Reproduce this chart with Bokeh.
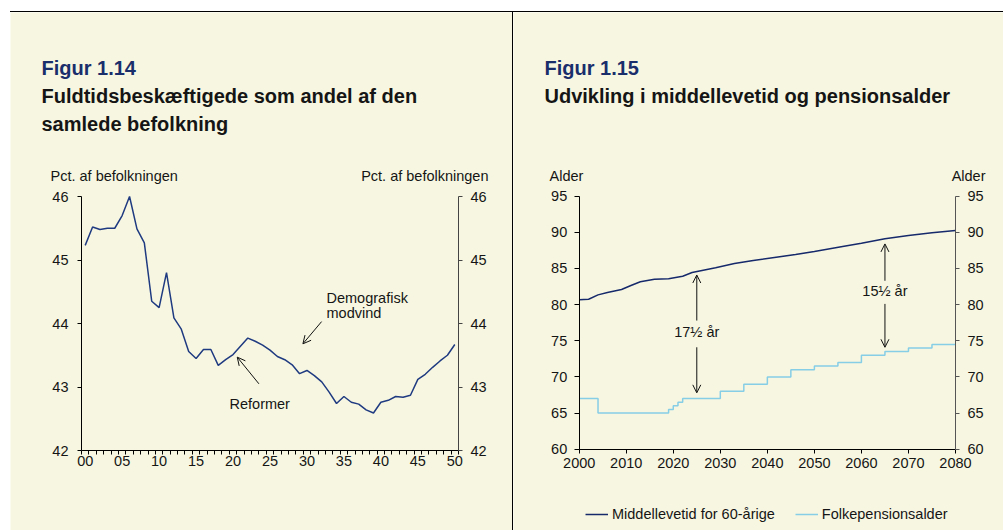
from bokeh.plotting import figure
from bokeh.models import (Range1d, LinearAxis, FixedTicker, Label, Arrow, OpenHead,
                          Legend, LegendItem, Spacer)
from bokeh.layouts import row, column
from bokeh.embed import file_html
from bokeh.resources import INLINE

FONT = "Liberation Sans"
BG = "#F7F7E1"
NAVY = "#1F3A80"
DARKNAVY = "#16296B"
LIGHTBLUE = "#86CDE6"
TITLEBLUE = "#1A2E6C"
TXT = "#151515"

# ---------------- Figur 1.14 data ----------------
years_114 = list(range(2000, 2051))
share_114 = [45.23, 45.52, 45.48, 45.50, 45.50, 45.70, 46.00, 45.49, 45.27, 44.35,
             44.25, 44.80, 44.09, 43.91, 43.56, 43.45, 43.59, 43.59, 43.34, 43.43,
             43.51, 43.64, 43.77, 43.72, 43.66, 43.58, 43.48, 43.43, 43.35, 43.21,
             43.26, 43.18, 43.08, 42.92, 42.74, 42.85, 42.76, 42.73, 42.64, 42.59,
             42.76, 42.79, 42.85, 42.84, 42.87, 43.12, 43.20, 43.31, 43.41, 43.50,
             43.67]
xticks_114 = [2000, 2005, 2010, 2015, 2020, 2025, 2030, 2035, 2040, 2045, 2050]
xlabels_114 = ["00", "05", "10", "15", "20", "25", "30", "35", "40", "45", "50"]
yticks_114 = [42, 43, 44, 45, 46]

# ---------------- Figur 1.15 data ----------------
le_years = [2000, 2002, 2004, 2006, 2009, 2011, 2013, 2016, 2019, 2022, 2024, 2029,
            2033, 2037, 2043, 2046, 2050, 2056, 2060, 2065, 2070, 2075, 2080]
le_values = [80.67, 80.75, 81.35, 81.68, 82.10, 82.65, 83.16, 83.52, 83.57, 83.93, 84.44,
             85.09, 85.69, 86.10, 86.66, 86.94, 87.35, 88.04, 88.50, 89.10, 89.56, 89.93, 90.25]
pens_years = [2000, 2004, 2019, 2020, 2021, 2022, 2030, 2035, 2040, 2045, 2050, 2055,
              2060, 2065, 2070, 2075, 2080]
pens_values = [67, 65, 65.5, 66, 66.5, 67, 68, 69, 70, 71, 71.5, 72, 73, 73.5, 74, 74.5, 74.5]
xticks_115 = [2000, 2010, 2020, 2030, 2040, 2050, 2060, 2070, 2080]
yticks_115 = [60, 65, 70, 75, 80, 85, 90, 95]

# ---------------- layout geometry (page pixels) ----------------
TOP = 12
H = 518
C1_X, C1_W = 10, 502
C2_X, C2_W = 513, 490


def x_range_for(d_lo, d_hi, px_lo, px_hi, c_x, c_w):
    s = (px_hi - px_lo) / (d_hi - d_lo)
    return Range1d(d_lo - (px_lo - c_x) / s, d_hi + (c_x + c_w - px_hi) / s)


def y_range_for(d_lo, d_hi, px_bottom, px_top):
    s = (px_bottom - px_top) / (d_hi - d_lo)
    return Range1d(d_lo - (TOP + H - px_bottom) / s, d_hi + (px_top - TOP) / s)


def style_axis(ax, color="#000000", size="14.5px"):
    ax.axis_line_color = color
    ax.axis_line_width = 1
    ax.major_tick_line_color = color
    ax.minor_tick_line_color = color
    ax.major_label_text_font = FONT
    ax.major_label_text_font_size = size
    ax.major_label_text_color = TXT
    ax.major_tick_in = 0
    ax.minor_tick_in = 0


def add_label(p, x, y, text, size="14.5px", bold=False, color=TXT, align="left",
              baseline="alphabetic", units="screen"):
    p.add_layout(Label(x=x, y=y, x_units=units, y_units=units, text=text,
                       text_font=FONT, text_font_size=size,
                       text_font_style="bold" if bold else "normal",
                       text_color=color, text_align=align, text_baseline=baseline))


def add_arrow(p, x0, y0, x1, y1):
    p.add_layout(Arrow(x_start=x0, y_start=y0, x_end=x1, y_end=y1,
                       line_color="#111111", line_width=1,
                       end=OpenHead(size=8, line_width=1, line_color="#111111")))


def base_fig(w, xr, yr):
    p = figure(width=w, height=H, x_range=xr, y_range=yr, title=None,
               x_axis_location=None, y_axis_location=None,
               output_backend="svg", toolbar_location=None,
               min_border=0, min_border_left=0, min_border_right=0,
               min_border_top=0, min_border_bottom=0,
               background_fill_color=BG, border_fill_color=BG, outline_line_color=None)
    p.grid.visible = False
    return p


# ---------------- Figure 1 ----------------
x1lo, x1hi = years_114[0] - 0.5, years_114[-1] + 0.5
p1 = base_fig(C1_W, x_range_for(x1lo, x1hi, 81, 458, C1_X, C1_W),
              y_range_for(yticks_114[0], yticks_114[-1], 450, 196))

xa = LinearAxis(fixed_location=yticks_114[0], bounds=(x1lo, x1hi))
xa.ticker = FixedTicker(ticks=xticks_114, minor_ticks=[y - 0.5 for y in years_114] + [x1hi])
xa.major_label_overrides = {t: l for t, l in zip(xticks_114, xlabels_114)}
style_axis(xa)
xa.major_tick_out = 0
xa.minor_tick_out = 4
xa.major_label_standoff = 1
p1.add_layout(xa, "below")

ya = LinearAxis(fixed_location=x1lo, bounds=(yticks_114[0], yticks_114[-1]),
                ticker=FixedTicker(ticks=yticks_114))
style_axis(ya)
ya.major_tick_out = 4
ya.minor_tick_out = 0
ya.major_label_standoff = 9
p1.add_layout(ya, "left")

ya_r = LinearAxis(fixed_location=x1hi, bounds=(yticks_114[0], yticks_114[-1]),
                  ticker=FixedTicker(ticks=yticks_114))
style_axis(ya_r, color="#444444")
ya_r.major_tick_out = 4
ya_r.minor_tick_out = 0
ya_r.major_label_standoff = 8
p1.add_layout(ya_r, "right")

p1.line(years_114, share_114, line_color=NAVY, line_width=1.5)

add_label(p1, 31, 463, "Figur 1.14", size="20px", bold=True, color=TITLEBLUE)
add_label(p1, 31, 435, "Fuldtidsbeskæftigede som andel af den", size="20px", bold=True)
add_label(p1, 31, 407, "samlede befolkning", size="20px", bold=True)
add_label(p1, 40, 355, "Pct. af befolkningen")
add_label(p1, 478, 355, "Pct. af befolkningen", align="right")
add_label(p1, 219, 127, "Reformer")
add_label(p1, 316, 233, "Demografisk")
add_label(p1, 316, 218, "modvind")
add_arrow(p1, 2023.5, 43.05, 2020.57, 43.47)
add_arrow(p1, 2031.98, 44.03, 2029.45, 43.68)

# ---------------- Figure 2 ----------------
p2 = base_fig(C2_W, x_range_for(xticks_115[0], xticks_115[-1], 578.7, 955, C2_X, C2_W),
              y_range_for(yticks_115[0], yticks_115[-1], 448.7, 195.7))

xb = LinearAxis(fixed_location=yticks_115[0], bounds=(xticks_115[0], xticks_115[-1]),
                ticker=FixedTicker(ticks=xticks_115))
xb.formatter.use_scientific = False
style_axis(xb)
xb.major_tick_out = 4
xb.minor_tick_out = 0
xb.major_label_standoff = 5
p2.add_layout(xb, "below")

yb = LinearAxis(fixed_location=xticks_115[0], bounds=(yticks_115[0], yticks_115[-1]),
                ticker=FixedTicker(ticks=yticks_115))
style_axis(yb)
yb.major_tick_out = 5
yb.minor_tick_out = 0
yb.major_label_standoff = 7
p2.add_layout(yb, "left")

yb_r = LinearAxis(fixed_location=xticks_115[-1], bounds=(yticks_115[0], yticks_115[-1]),
                  ticker=FixedTicker(ticks=yticks_115))
style_axis(yb_r, color="#555555")
yb_r.major_tick_out = 4
yb_r.minor_tick_out = 0
yb_r.major_label_standoff = 8
p2.add_layout(yb_r, "right")

r_le = p2.line(le_years, le_values, line_color=DARKNAVY, line_width=1.5)
r_pe = p2.step(pens_years, pens_values, mode="after", line_color=LIGHTBLUE, line_width=1.5)

add_label(p2, 31, 463, "Figur 1.15", size="20px", bold=True, color=TITLEBLUE)
add_label(p2, 31, 435, "Udvikling i middellevetid og pensionsalder", size="20px", bold=True)
add_label(p2, 36, 355, "Alder")
add_label(p2, 472, 355, "Alder", align="right")
add_label(p2, 2025, 76.15, "17½ år", align="center", baseline="middle", units="data")
add_label(p2, 2065, 81.85, "15½ år", align="center", baseline="middle", units="data")
add_arrow(p2, 2025, 77.8, 2025, 84.1)
add_arrow(p2, 2025, 74.1, 2025, 67.8)
add_arrow(p2, 2065, 83.3, 2065, 88.4)
add_arrow(p2, 2065, 80.1, 2065, 74.1)

legend = Legend(items=[LegendItem(label="Middellevetid for 60-årige", renderers=[r_le]),
                       LegendItem(label="Folkepensionsalder", renderers=[r_pe])],
                location=(72, 8), orientation="horizontal",
                background_fill_alpha=0, border_line_color=None, padding=0, margin=0,
                spacing=20, glyph_width=23, glyph_height=16, label_height=16,
                label_standoff=4, label_text_font=FONT, label_text_font_size="14.5px",
                label_text_color=TXT)
p2.add_layout(legend, "center")

# ---------------- Page ----------------
top_line = row(Spacer(width=10, height=1),
               Spacer(width=993, height=1, styles={"background-color": "black"}))
body = row(Spacer(width=10, height=H), p1,
           Spacer(width=1, height=H, styles={"background-color": "black"}), p2)
page = column(Spacer(width=1003, height=11), top_line, body)

open("out.html", "w").write(file_html(page, INLINE))
